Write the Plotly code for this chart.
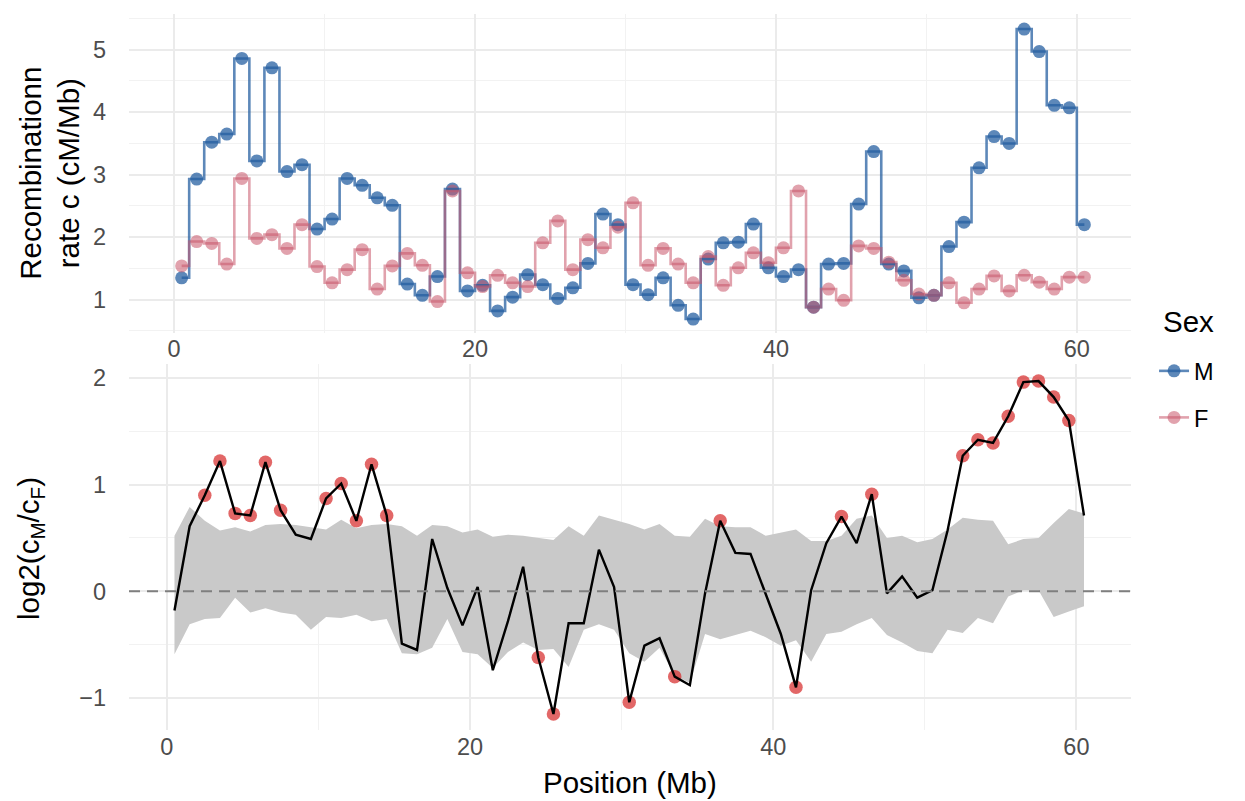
import plotly.graph_objects as go

# positions (Mb) of the windows
pos = [0.5, 1.5, 2.5, 3.5, 4.5, 5.5, 6.5, 7.5, 8.5, 9.5,
       10.5, 11.5, 12.5, 13.5, 14.5, 15.5, 16.5, 17.5, 18.5, 19.5,
       20.5, 21.5, 22.5, 23.5, 24.5, 25.5, 26.5, 27.5, 28.5, 29.5,
       30.5, 31.5, 32.5, 33.5, 34.5, 35.5, 36.5, 37.5, 38.5, 39.5,
       40.5, 41.5, 42.5, 43.5, 44.5, 45.5, 46.5, 47.5, 48.5, 49.5,
       50.5, 51.5, 52.5, 53.5, 54.5, 55.5, 56.5, 57.5, 58.5, 59.5,
       60.5]

# recombination rate, males / females (cM/Mb)
rate_m = [1.35, 2.93, 3.52, 3.65, 4.86, 3.22, 4.71, 3.05, 3.16, 2.13,
          2.29, 2.94, 2.83, 2.63, 2.51, 1.25, 1.07, 1.37, 2.77, 1.14,
          1.23, 0.82, 1.04, 1.40, 1.24, 1.02, 1.19, 1.58, 2.37, 2.20,
          1.24, 1.08, 1.35, 0.91, 0.69, 1.65, 1.91, 1.92, 2.21, 1.51,
          1.37, 1.48, 0.88, 1.57, 1.58, 2.53, 3.37, 1.57, 1.46, 1.03,
          1.07, 1.85, 2.24, 3.11, 3.61, 3.50, 5.33, 4.97, 4.11, 4.07,
          2.20]
rate_f = [1.54, 1.93, 1.90, 1.57, 2.94, 1.98, 2.04, 1.82, 2.20, 1.53,
          1.27, 1.48, 1.80, 1.17, 1.54, 1.74, 1.55, 0.97, 2.74, 1.43,
          1.21, 1.39, 1.27, 1.21, 1.91, 2.26, 1.48, 1.96, 1.83, 2.16,
          2.55, 1.55, 1.82, 1.57, 1.27, 1.69, 1.23, 1.51, 1.75, 1.59,
          1.83, 2.74, 0.88, 1.17, 0.99, 1.86, 1.82, 1.60, 1.31, 1.09,
          1.07, 1.27, 0.95, 1.17, 1.38, 1.14, 1.39, 1.28, 1.17, 1.36,
          1.36]

# log2(cM/cF) and null envelope
log_ratio = [-0.18, 0.61, 0.90, 1.22, 0.73, 0.71, 1.21, 0.76, 0.53, 0.49,
             0.87, 1.01, 0.66, 1.19, 0.71, -0.49, -0.55, 0.49, 0.03, -0.32,
             0.04, -0.74, -0.28, 0.23, -0.62, -1.15, -0.30, -0.30, 0.39, 0.04,
             -1.04, -0.51, -0.44, -0.80, -0.88, -0.02, 0.66, 0.36, 0.35, -0.03,
             -0.40, -0.90, 0.01, 0.45, 0.70, 0.45, 0.91, -0.02, 0.14, -0.06,
             0.01, 0.57, 1.27, 1.42, 1.39, 1.64, 1.96, 1.97, 1.82, 1.60,
             0.71]
env_hi = [0.52, 0.79, 0.66, 0.57, 0.60, 0.56, 0.62, 0.63, 0.62, 0.60,
          0.58, 0.67, 0.59, 0.62, 0.63, 0.61, 0.52, 0.62, 0.61, 0.55,
          0.58, 0.51, 0.53, 0.52, 0.50, 0.48, 0.61, 0.52, 0.71, 0.67,
          0.63, 0.58, 0.63, 0.52, 0.51, 0.68, 0.61, 0.60, 0.60, 0.52,
          0.55, 0.58, 0.47, 0.47, 0.52, 0.68, 0.71, 0.50, 0.52, 0.46,
          0.49, 0.58, 0.69, 0.67, 0.66, 0.44, 0.49, 0.50, 0.64, 0.77,
          0.73]
env_lo = [-0.59, -0.31, -0.26, -0.25, -0.06, -0.20, -0.16, -0.20, -0.22, -0.36,
          -0.24, -0.25, -0.22, -0.28, -0.26, -0.58, -0.59, -0.53, -0.26, -0.57,
          -0.59, -0.72, -0.57, -0.48, -0.55, -0.54, -0.71, -0.36, -0.31, -0.36,
          -0.58, -0.66, -0.53, -0.79, -0.86, -0.40, -0.45, -0.41, -0.37, -0.43,
          -0.51, -0.46, -0.66, -0.40, -0.38, -0.31, -0.25, -0.41, -0.48, -0.56,
          -0.58, -0.36, -0.39, -0.25, -0.30, -0.05, 0.01, 0.01, -0.24, -0.19,
          -0.14]
# outside the envelope (1 = significant)
sig = [0, 0, 1, 1, 1, 1, 1, 1, 0, 0,
       1, 1, 1, 1, 1, 0, 0, 0, 0, 0,
       0, 0, 0, 0, 1, 1, 0, 0, 0, 0,
       1, 0, 0, 1, 0, 0, 1, 0, 0, 0,
       0, 1, 0, 0, 1, 0, 1, 0, 0, 0,
       0, 0, 1, 1, 1, 1, 1, 1, 1, 1,
       0]

sexes = ["M", "F"]
col_line = {"M": "rgba(36,94,160,0.74)", "F": "rgba(200,85,105,0.55)"}
col_pt = {"M": "rgba(36,94,160,0.74)", "F": "rgba(200,85,105,0.55)"}
rates = {"M": rate_m, "F": rate_f}

FONT = "Liberation Sans, Arial, sans-serif"
GRID = "#EBEBEB"
TICK = 23.5
TITLE = 29.5

fig = go.Figure()

# --- top panel: step lines + points
for s in sexes:
    fig.add_trace(go.Scatter(
        x=pos, y=rates[s], mode="markers", xaxis="x", yaxis="y",
        marker=dict(size=13, color=col_pt[s]), showlegend=False,
        hoverinfo="skip"))
for s in sexes:
    fig.add_trace(go.Scatter(
        x=pos, y=rates[s], mode="lines", xaxis="x", yaxis="y",
        line=dict(color=col_line[s], width=2.6, shape="hvh"),
        showlegend=False, name=s))
# legend entries
for s in sexes:
    fig.add_trace(go.Scatter(
        x=[None], y=[None], mode="lines+markers", name=s, legendgroup=s,
        xaxis="x", yaxis="y",
        line=dict(color=col_line[s], width=2.6),
        marker=dict(size=13, color=col_pt[s])))

# --- bottom panel: envelope, ratio, significant points
fig.add_trace(go.Scatter(
    x=pos, y=env_lo, mode="lines", line=dict(width=0, color="#C9C9C9"),
    xaxis="x2", yaxis="y2", showlegend=False, hoverinfo="skip"))
fig.add_trace(go.Scatter(
    x=pos, y=env_hi, mode="lines", line=dict(width=0, color="#C9C9C9"),
    fill="tonexty", fillcolor="#C9C9C9",
    xaxis="x2", yaxis="y2", showlegend=False, hoverinfo="skip"))

sx = [p for p, f in zip(pos, sig) if f]
sy = [v for v, f in zip(log_ratio, sig) if f]
fig.add_trace(go.Scatter(
    x=sx, y=sy, mode="markers", xaxis="x2", yaxis="y2",
    marker=dict(size=13.5, color="rgba(215,45,45,0.72)"), showlegend=False))
fig.add_trace(go.Scatter(
    x=pos, y=log_ratio, mode="lines", xaxis="x2", yaxis="y2",
    line=dict(color="black", width=2.4), showlegend=False))

fig.add_shape(type="line", xref="x2 domain", yref="y2", x0=0, x1=1, y0=0, y1=0,
              line=dict(color="#7F7F7F", width=2.2, dash="11px,7px"), layer="above")

axis_common = dict(showline=False, zeroline=False, ticks="",
                   gridcolor=GRID, gridwidth=1.6,
                   tickfont=dict(size=TICK, color="#4D4D4D", family=FONT))

fig.update_layout(
    width=1245, height=801,
    margin=dict(l=121, r=122, t=6, b=79),
    paper_bgcolor="white", plot_bgcolor="white",
    font=dict(family=FONT, color="black"),
    xaxis=dict(domain=[0, 1], anchor="y", range=[-3.0, 63.6],
               tickvals=[0, 20, 40, 60], ticklabelstandoff=0,
               minor=dict(tickvals=[10, 30, 50], showgrid=True,
                          gridcolor="#F2F2F2", gridwidth=1),
               **axis_common),
    yaxis=dict(domain=[0.5545, 1], anchor="x", range=[0.467, 5.571],
               tickvals=[1, 2, 3, 4, 5], ticklabelstandoff=22,
               minor=dict(tickvals=[0.5, 1.5, 2.5, 3.5, 4.5, 5.5], showgrid=True,
                          gridcolor="#F2F2F2", gridwidth=1),
               **axis_common),
    xaxis2=dict(domain=[0, 1], anchor="y2", range=[-2.5, 63.6],
                tickvals=[0, 20, 40, 60], ticklabelstandoff=0,
                minor=dict(tickvals=[10, 30, 50], showgrid=True,
                           gridcolor="#F2F2F2", gridwidth=1),
                **axis_common),
    yaxis2=dict(domain=[0, 0.5112], anchor="x2", range=[-1.30, 2.13],
                tickvals=[-1, 0, 1, 2], ticktext=["\u22121", "0", "1", "2"],
                ticklabelstandoff=22,
                minor=dict(tickvals=[-0.5, 0.5, 1.5], showgrid=True,
                           gridcolor="#F2F2F2", gridwidth=1),
                **axis_common),
    legend=dict(x=1.023, y=0.532, xanchor="left", yanchor="top",
                font=dict(size=TICK, family=FONT), tracegroupgap=13,
                bgcolor="rgba(0,0,0,0)"),
    showlegend=True,
)

# legend title placed by hand so the gap to the keys matches
fig.add_annotation(text="Sex", xref="paper", yref="paper",
                   x=1.030, y=0.571, showarrow=False,
                   xanchor="left", yanchor="middle",
                   font=dict(size=TITLE, family=FONT, color="black"))
fig.add_annotation(text="Recombinationn<br>rate c (cM/Mb)", xref="paper", yref="paper",
                   x=-0.079, y=0.778, textangle=-90, showarrow=False,
                   xanchor="center", yanchor="middle",
                   font=dict(size=TITLE, family=FONT, color="black"))
fig.add_annotation(text="log2(c<sub>M</sub>/c<sub>F</sub>)", xref="paper", yref="paper",
                   x=-0.099, y=0.254, textangle=-90, showarrow=False,
                   xanchor="center", yanchor="middle",
                   font=dict(size=TITLE, family=FONT, color="black"))
fig.add_annotation(text="Position (Mb)", xref="paper", yref="paper",
                   x=0.5, y=-0.074, showarrow=False,
                   xanchor="center", yanchor="middle",
                   font=dict(size=TITLE, family=FONT, color="black"))

fig.write_html("out.html")
